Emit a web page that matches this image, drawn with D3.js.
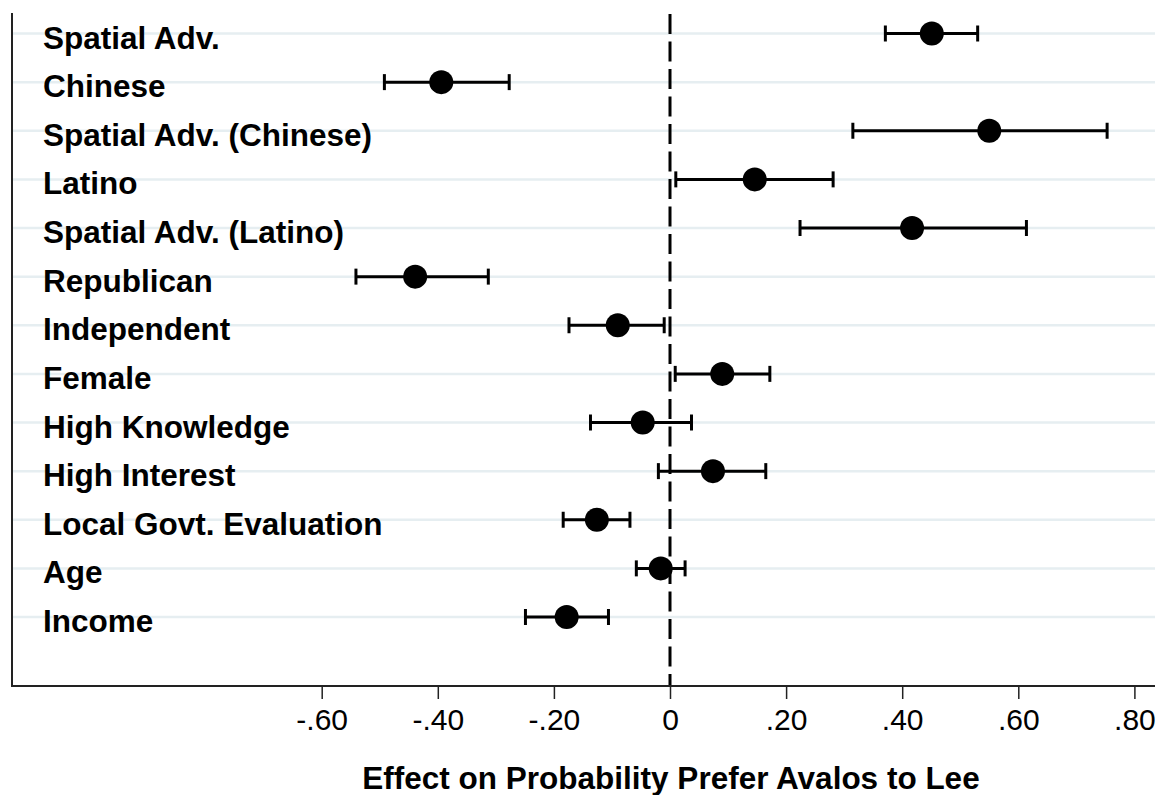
<!DOCTYPE html>
<html>
<head>
<meta charset="utf-8">
<script src="https://cdn.jsdelivr.net/npm/d3@7"></script>
<style>
  html, body { margin: 0; padding: 0; background: #ffffff; }
  svg { display: block; }
</style>
</head>
<body>
<svg id="chart" width="1159" height="795"></svg>
<script>
const categories = [
  "Spatial Adv.",
  "Chinese",
  "Spatial Adv. (Chinese)",
  "Latino",
  "Spatial Adv. (Latino)",
  "Republican",
  "Independent",
  "Female",
  "High Knowledge",
  "High Interest",
  "Local Govt. Evaluation",
  "Age",
  "Income"
];
const estimates = [0.451, -0.394, 0.550, 0.146, 0.417, -0.439, -0.090, 0.090, -0.047, 0.074, -0.126, -0.016, -0.178];
const lowerCI   = [0.371, -0.492, 0.315, 0.010, 0.224, -0.541, -0.174, 0.009, -0.137, -0.020, -0.184, -0.058, -0.249];
const upperCI   = [0.530, -0.277, 0.753, 0.281, 0.614, -0.313, -0.010, 0.172, 0.037, 0.165, -0.069, 0.026, -0.106];
const xTicks = [-0.6, -0.4, -0.2, 0, 0.2, 0.4, 0.6, 0.8];
const xTickLabels = ["-.60", "-.40", "-.20", "0", ".20", ".40", ".60", ".80"];
const xTitle = "Effect on Probability Prefer Avalos to Lee";

const data = categories.map((c, i) => ({ cat: c, est: estimates[i], lo: lowerCI[i], hi: upperCI[i] }));

const svg = d3.select("#chart");
const frameLeft = 12, frameRight = 1155, frameTop = 13, frameBottom = 686;

const x = d3.scaleLinear().domain([0, 0.2]).range([670, 786.1]);
const y = d3.scalePoint().domain(categories).range([33.5, 617]);

// gridlines
svg.append("g").selectAll("line").data(categories).join("line")
  .attr("x1", frameLeft).attr("x2", frameRight)
  .attr("y1", d => y(d)).attr("y2", d => y(d))
  .attr("stroke", "#e6eef1").attr("stroke-width", 2.5);

// labels
svg.append("g").selectAll("text").data(categories).join("text")
  .attr("x", 43).attr("y", d => y(d) + 15)
  .attr("font-family", "Liberation Sans, Arial, sans-serif")
  .attr("font-weight", "bold").attr("font-size", 31.5)
  .attr("fill", "#000").text(d => d);

// zero reference line
svg.append("line")
  .attr("x1", x(0)).attr("x2", x(0))
  .attr("y1", frameTop + 1).attr("y2", frameBottom)
  .attr("stroke", "#000").attr("stroke-width", 3)
  .attr("stroke-dasharray", "20,7.5");

// error bars
const eb = svg.append("g").attr("stroke", "#000").attr("stroke-width", 3);
eb.selectAll("line.bar").data(data).join("line").attr("class", "bar")
  .attr("x1", d => x(d.lo)).attr("x2", d => x(d.hi))
  .attr("y1", d => y(d.cat)).attr("y2", d => y(d.cat));
eb.selectAll("line.capL").data(data).join("line").attr("class", "capL")
  .attr("x1", d => x(d.lo)).attr("x2", d => x(d.lo))
  .attr("y1", d => y(d.cat) - 8).attr("y2", d => y(d.cat) + 8);
eb.selectAll("line.capR").data(data).join("line").attr("class", "capR")
  .attr("x1", d => x(d.hi)).attr("x2", d => x(d.hi))
  .attr("y1", d => y(d.cat) - 8).attr("y2", d => y(d.cat) + 8);

// points
svg.append("g").selectAll("circle").data(data).join("circle")
  .attr("cx", d => x(d.est)).attr("cy", d => y(d.cat)).attr("r", 12)
  .attr("fill", "#000");

// left frame line
svg.append("line")
  .attr("x1", frameLeft).attr("x2", frameLeft)
  .attr("y1", frameTop).attr("y2", frameBottom)
  .attr("stroke", "#222").attr("stroke-width", 2);

// x axis
const xAxis = d3.axisBottom(x).tickValues(xTicks)
  .tickFormat((d, i) => xTickLabels[i]).tickSize(13).tickPadding(4);
const gx = svg.append("g").attr("transform", `translate(0,${frameBottom})`).call(xAxis);
gx.select(".domain").remove();
gx.selectAll(".tick line").attr("stroke", "#222").attr("stroke-width", 1.5);
gx.selectAll(".tick text")
  .attr("font-family", "Liberation Sans, Arial, sans-serif")
  .attr("font-size", 30).attr("fill", "#000")
  .attr("dy", null).attr("y", 44);
svg.append("line")
  .attr("x1", frameLeft - 1).attr("x2", frameRight)
  .attr("y1", frameBottom).attr("y2", frameBottom)
  .attr("stroke", "#222").attr("stroke-width", 2);

// axis title
svg.append("text")
  .attr("x", 671).attr("y", 789)
  .attr("text-anchor", "middle")
  .attr("font-family", "Liberation Sans, Arial, sans-serif")
  .attr("font-weight", "bold").attr("font-size", 31.5)
  .attr("fill", "#000").text(xTitle);
</script>
</body>
</html>
